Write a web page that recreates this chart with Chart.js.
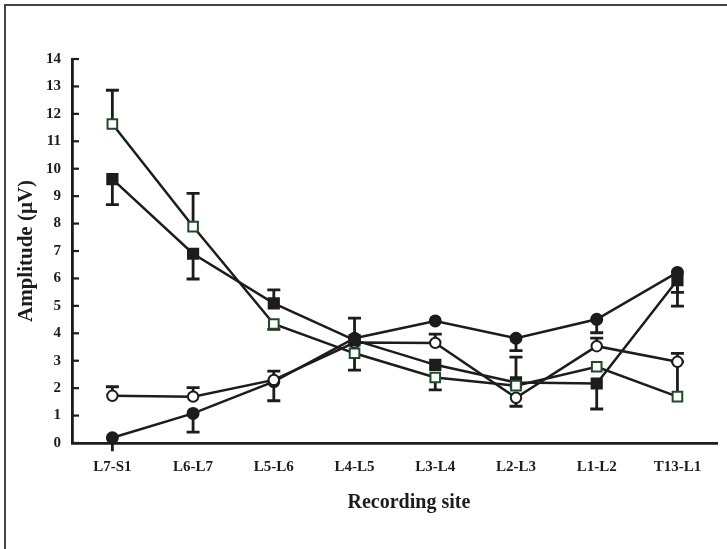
<!DOCTYPE html>
<html>
<head>
<meta charset="utf-8">
<script src="https://cdn.jsdelivr.net/npm/chart.js@4/dist/chart.umd.min.js"></script>
<style>
  html, body { margin: 0; padding: 0; background: #fff; }
  #wrap { position: relative; width: 727px; height: 549px; overflow: hidden; }
  #frame { position: absolute; left: 4px; top: 4px; width: 900px; height: 700px;
           border-left: 2px solid #444; border-top: 2px solid #444; }
  #chart { position: absolute; left: 0; top: 0; }
</style>
</head>
<body>
<div id="wrap">
  <div id="frame"></div>
  <canvas id="chart" width="727" height="549"></canvas>
</div>
<script>
var sites = ['L7-S1', 'L6-L7', 'L5-L6', 'L4-L5', 'L3-L4', 'L2-L3', 'L1-L2', 'T13-L1'];
var yTicks = [0, 1, 2, 3, 4, 5, 6, 7, 8, 9, 10, 11, 12, 13, 14];

// mean amplitudes
var filledCircle = [0.19, 1.08, 2.24, 3.82, 4.45, 3.82, 4.51, 6.22];
var openCircle = [1.72, 1.69, 2.30, 3.66, 3.65, 1.65, 3.53, 2.96];
var filledSquare = [9.62, 6.90, 5.09, 3.75, 2.85, 2.21, 2.17, 5.94];
var openSquare = [11.63, 7.89, 4.34, 3.27, 2.39, 2.09, 2.78, 1.69];

// end of the (one sided) error bar, null = none drawn
var filledCircleErr = [-0.3, 0.40, 1.54, null, null, 3.37, 4.02, 5.49];
var openCircleErr = [2.05, 2.02, 2.62, null, 3.97, 1.34, 3.82, 3.27];
var filledSquareErr = [8.69, 5.98, 5.58, 4.55, null, 3.13, 1.24, 4.99];
var openSquareErr = [12.86, 9.10, 4.14, 2.66, 1.94, null, null, 2.96];

var xTitle = 'Recording site';

var ink = '#1c1c1c',
    green = '#1f4a26',
    serif = "'Liberation Serif', 'DejaVu Serif', serif";

var errorBars = {
    id: 'errorBars',
    beforeDatasetsDraw: function (chart) {
        var ctx = chart.ctx, y = chart.scales.y;
        ctx.save();
        ctx.strokeStyle = ink;
        ctx.lineWidth = 2.8;
        chart.data.datasets.forEach(function (ds, i) {
            var meta = chart.getDatasetMeta(i);
            ds.errEnd.forEach(function (end, j) {
                if (end === null) return;
                var pt = meta.data[j];
                var py = y.getPixelForValue(end);
                ctx.beginPath();
                ctx.moveTo(pt.x, pt.y);
                ctx.lineTo(pt.x, py);
                if (end >= 0) {
                    ctx.moveTo(pt.x - 6.5, py);
                    ctx.lineTo(pt.x + 6.5, py);
                }
                ctx.stroke();
            });
        });
        ctx.restore();
    }
};

// inward y ticks and the x title (sits a bit right of centre in the original)
var axisExtras = {
    id: 'axisExtras',
    afterDraw: function (chart) {
        var ctx = chart.ctx, y = chart.scales.y, area = chart.chartArea;
        ctx.save();
        ctx.strokeStyle = ink;
        ctx.lineWidth = 2.2;
        y.ticks.forEach(function (t) {
            var py = y.getPixelForValue(t.value);
            ctx.beginPath();
            ctx.moveTo(area.left, py);
            ctx.lineTo(area.left + 7, py);
            ctx.stroke();
        });
        ctx.fillStyle = ink;
        ctx.font = 'bold 20px ' + serif;
        ctx.textAlign = 'center';
        ctx.textBaseline = 'middle';
        ctx.fillText(xTitle, (area.left + area.right) / 2 + 14, area.bottom + 60);
        ctx.restore();
    }
};

function series(data, err, style, radius, fill, border) {
    return {
        data: data,
        errEnd: err,
        borderColor: ink,
        borderWidth: 2.5,
        pointStyle: style,
        pointRadius: radius,
        pointHoverRadius: radius,
        pointBackgroundColor: fill,
        pointBorderColor: border,
        pointBorderWidth: 2,
        tension: 0,
        clip: false
    };
}

new Chart(document.getElementById('chart'), {
    type: 'line',
    data: {
        labels: sites,
        datasets: [
            series(openSquare, openSquareErr, 'rect', 6.8, '#ffffff', green),
            series(filledSquare, filledSquareErr, 'rect', 7.2, ink, ink),
            series(openCircle, openCircleErr, 'circle', 5.2, '#ffffff', ink),
            series(filledCircle, filledCircleErr, 'circle', 5.5, ink, ink)
        ]
    },
    plugins: [errorBars, axisExtras],
    options: {
        responsive: false,
        animation: false,
        layout: { padding: { top: 59, right: 7, left: 0, bottom: 0 } },
        plugins: { legend: { display: false }, tooltip: { enabled: false } },
        scales: {
            x: {
                offset: true,
                grid: { display: false, drawTicks: false },
                border: { display: true, color: ink, width: 2.8 },
                ticks: { color: ink, padding: 15, font: { family: serif, size: 15, weight: 'bold' } },
                title: { display: false },
                afterFit: function (s) { s.height = 106; }
            },
            y: {
                min: 0, max: 14,
                afterBuildTicks: function (s) {
                    s.ticks = yTicks.map(function (v) { return { value: v }; });
                },
                grid: { display: false, drawTicks: false },
                border: { display: true, color: ink, width: 2.8 },
                ticks: { color: ink, padding: 11, font: { family: serif, size: 15, weight: 'bold' } },
                title: {
                    display: true, text: 'Amplitude (μV)', color: ink,
                    font: { family: serif, size: 21, weight: 'bold' },
                    padding: { top: 14, bottom: 0 }
                },
                afterFit: function (s) { s.width = 72; }
            }
        }
    }
});
</script>
</body>
</html>
